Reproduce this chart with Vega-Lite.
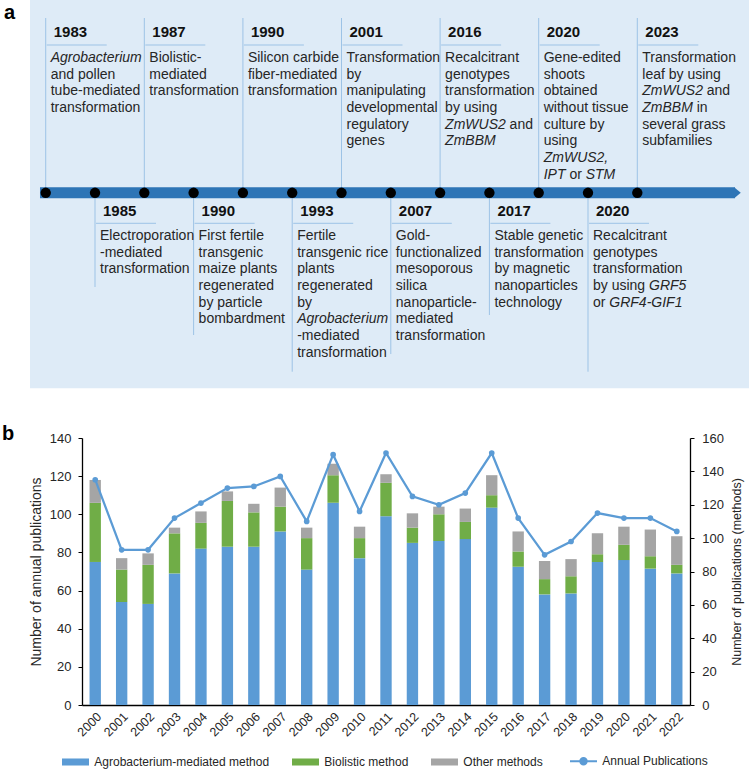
{
  "$schema": "https://vega.github.io/schema/vega-lite/v6.json",
  "width": 608,
  "height": 267,
  "autosize": {"type": "none"},
  "padding": {"left": 82, "top": 438, "right": 59, "bottom": 69},
  "background": "white",
  "config": {"view": {"stroke": null}, "font": "Liberation Sans, Arial, sans-serif"},
  "datasets": {
    "events": [
      {"slot": 1, "year": "1983", "side": "top", "reach": -1.394},
      {"slot": 2, "year": "1985", "side": "bottom", "reach": 14.74},
      {"slot": 3, "year": "1987", "side": "top", "reach": -1.394},
      {"slot": 4, "year": "1990", "side": "bottom", "reach": 17.62},
      {"slot": 5, "year": "1990", "side": "top", "reach": -1.394},
      {"slot": 6, "year": "1993", "side": "bottom", "reach": 19.82},
      {"slot": 7, "year": "2001", "side": "top", "reach": -1.394},
      {"slot": 8, "year": "2007", "side": "bottom", "reach": 18.76},
      {"slot": 9, "year": "2016", "side": "top", "reach": -1.394},
      {"slot": 10, "year": "2017", "side": "bottom", "reach": 16.42},
      {"slot": 11, "year": "2020", "side": "top", "reach": -1.394},
      {"slot": 12, "year": "2020", "side": "bottom", "reach": 19.82},
      {"slot": 13, "year": "2023", "side": "top", "reach": -1.394}
    ],
    "texts": [
      {"slot": 1, "side": "top", "line": 1, "text": "Agrobacterium", "it": true},
      {"slot": 1, "side": "top", "line": 2, "text": "and pollen"},
      {"slot": 1, "side": "top", "line": 3, "text": "tube-mediated"},
      {"slot": 1, "side": "top", "line": 4, "text": "transformation"},
      {"slot": 3, "side": "top", "line": 1, "text": "Biolistic-"},
      {"slot": 3, "side": "top", "line": 2, "text": "mediated"},
      {"slot": 3, "side": "top", "line": 3, "text": "transformation"},
      {"slot": 5, "side": "top", "line": 1, "text": "Silicon carbide"},
      {"slot": 5, "side": "top", "line": 2, "text": "fiber-mediated"},
      {"slot": 5, "side": "top", "line": 3, "text": "transformation"},
      {"slot": 7, "side": "top", "line": 1, "text": "Transformation"},
      {"slot": 7, "side": "top", "line": 2, "text": "by"},
      {"slot": 7, "side": "top", "line": 3, "text": "manipulating"},
      {"slot": 7, "side": "top", "line": 4, "text": "developmental"},
      {"slot": 7, "side": "top", "line": 5, "text": "regulatory"},
      {"slot": 7, "side": "top", "line": 6, "text": "genes"},
      {"slot": 9, "side": "top", "line": 1, "text": "Recalcitrant"},
      {"slot": 9, "side": "top", "line": 2, "text": "genotypes"},
      {"slot": 9, "side": "top", "line": 3, "text": "transformation"},
      {"slot": 9, "side": "top", "line": 4, "text": "by using"},
      {"slot": 9, "side": "top", "line": 5, "text": "ZmWUS2", "it": true},
      {"slot": 9, "side": "top", "line": 5, "text": "and", "pre": "ZmWUS2"},
      {"slot": 9, "side": "top", "line": 6, "text": "ZmBBM", "it": true},
      {"slot": 11, "side": "top", "line": 1, "text": "Gene-edited"},
      {"slot": 11, "side": "top", "line": 2, "text": "shoots"},
      {"slot": 11, "side": "top", "line": 3, "text": "obtained"},
      {"slot": 11, "side": "top", "line": 4, "text": "without tissue"},
      {"slot": 11, "side": "top", "line": 5, "text": "culture by"},
      {"slot": 11, "side": "top", "line": 6, "text": "using"},
      {"slot": 11, "side": "top", "line": 7, "text": "ZmWUS2,", "it": true},
      {"slot": 11, "side": "top", "line": 8, "text": "IPT", "it": true},
      {"slot": 11, "side": "top", "line": 8, "text": "or", "pre": "IPT"},
      {"slot": 11, "side": "top", "line": 8, "text": "STM", "it": true, "pre": "IPT or"},
      {"slot": 13, "side": "top", "line": 1, "text": "Transformation"},
      {"slot": 13, "side": "top", "line": 2, "text": "leaf by using"},
      {"slot": 13, "side": "top", "line": 3, "text": "ZmWUS2", "it": true},
      {"slot": 13, "side": "top", "line": 3, "text": "and", "pre": "ZmWUS2"},
      {"slot": 13, "side": "top", "line": 4, "text": "ZmBBM", "it": true},
      {"slot": 13, "side": "top", "line": 4, "text": "in", "pre": "ZmBBM"},
      {"slot": 13, "side": "top", "line": 5, "text": "several grass"},
      {"slot": 13, "side": "top", "line": 6, "text": "subfamilies"},
      {"slot": 2, "side": "bottom", "line": 1, "text": "Electroporation"},
      {"slot": 2, "side": "bottom", "line": 2, "text": "-mediated"},
      {"slot": 2, "side": "bottom", "line": 3, "text": "transformation"},
      {"slot": 4, "side": "bottom", "line": 1, "text": "First fertile"},
      {"slot": 4, "side": "bottom", "line": 2, "text": "transgenic"},
      {"slot": 4, "side": "bottom", "line": 3, "text": "maize plants"},
      {"slot": 4, "side": "bottom", "line": 4, "text": "regenerated"},
      {"slot": 4, "side": "bottom", "line": 5, "text": "by particle"},
      {"slot": 4, "side": "bottom", "line": 6, "text": "bombardment"},
      {"slot": 6, "side": "bottom", "line": 1, "text": "Fertile"},
      {"slot": 6, "side": "bottom", "line": 2, "text": "transgenic rice"},
      {"slot": 6, "side": "bottom", "line": 3, "text": "plants"},
      {"slot": 6, "side": "bottom", "line": 4, "text": "regenerated"},
      {"slot": 6, "side": "bottom", "line": 5, "text": "by"},
      {"slot": 6, "side": "bottom", "line": 6, "text": "Agrobacterium", "it": true},
      {"slot": 6, "side": "bottom", "line": 7, "text": "-mediated"},
      {"slot": 6, "side": "bottom", "line": 8, "text": "transformation"},
      {"slot": 8, "side": "bottom", "line": 1, "text": "Gold-"},
      {"slot": 8, "side": "bottom", "line": 2, "text": "functionalized"},
      {"slot": 8, "side": "bottom", "line": 3, "text": "mesoporous"},
      {"slot": 8, "side": "bottom", "line": 4, "text": "silica"},
      {"slot": 8, "side": "bottom", "line": 5, "text": "nanoparticle-"},
      {"slot": 8, "side": "bottom", "line": 6, "text": "mediated"},
      {"slot": 8, "side": "bottom", "line": 7, "text": "transformation"},
      {"slot": 10, "side": "bottom", "line": 1, "text": "Stable genetic"},
      {"slot": 10, "side": "bottom", "line": 2, "text": "transformation"},
      {"slot": 10, "side": "bottom", "line": 3, "text": "by magnetic"},
      {"slot": 10, "side": "bottom", "line": 4, "text": "nanoparticles"},
      {"slot": 10, "side": "bottom", "line": 5, "text": "technology"},
      {"slot": 12, "side": "bottom", "line": 1, "text": "Recalcitrant"},
      {"slot": 12, "side": "bottom", "line": 2, "text": "genotypes"},
      {"slot": 12, "side": "bottom", "line": 3, "text": "transformation"},
      {"slot": 12, "side": "bottom", "line": 4, "text": "by using"},
      {"slot": 12, "side": "bottom", "line": 4, "text": "GRF5", "it": true, "pre": "by using"},
      {"slot": 12, "side": "bottom", "line": 5, "text": "or"},
      {"slot": 12, "side": "bottom", "line": 5, "text": "GRF4-GIF1", "it": true, "pre": "or"}
    ],
    "methods": [
      {"year": "2000", "method": "Agrobacterium-mediated method", "count": 75},
      {"year": "2000", "method": "Biolistic method", "count": 31},
      {"year": "2000", "method": "Other methods", "count": 12},
      {"year": "2001", "method": "Agrobacterium-mediated method", "count": 54},
      {"year": "2001", "method": "Biolistic method", "count": 17},
      {"year": "2001", "method": "Other methods", "count": 6},
      {"year": "2002", "method": "Agrobacterium-mediated method", "count": 53},
      {"year": "2002", "method": "Biolistic method", "count": 20.5},
      {"year": "2002", "method": "Other methods", "count": 6},
      {"year": "2003", "method": "Agrobacterium-mediated method", "count": 69},
      {"year": "2003", "method": "Biolistic method", "count": 21},
      {"year": "2003", "method": "Other methods", "count": 3},
      {"year": "2004", "method": "Agrobacterium-mediated method", "count": 82},
      {"year": "2004", "method": "Biolistic method", "count": 13.5},
      {"year": "2004", "method": "Other methods", "count": 6},
      {"year": "2005", "method": "Agrobacterium-mediated method", "count": 83},
      {"year": "2005", "method": "Biolistic method", "count": 24},
      {"year": "2005", "method": "Other methods", "count": 5},
      {"year": "2006", "method": "Agrobacterium-mediated method", "count": 83},
      {"year": "2006", "method": "Biolistic method", "count": 18},
      {"year": "2006", "method": "Other methods", "count": 4.5},
      {"year": "2007", "method": "Agrobacterium-mediated method", "count": 91},
      {"year": "2007", "method": "Biolistic method", "count": 13},
      {"year": "2007", "method": "Other methods", "count": 10},
      {"year": "2008", "method": "Agrobacterium-mediated method", "count": 71},
      {"year": "2008", "method": "Biolistic method", "count": 16.5},
      {"year": "2008", "method": "Other methods", "count": 5.5},
      {"year": "2009", "method": "Agrobacterium-mediated method", "count": 106},
      {"year": "2009", "method": "Biolistic method", "count": 14.5},
      {"year": "2009", "method": "Other methods", "count": 6},
      {"year": "2010", "method": "Agrobacterium-mediated method", "count": 77},
      {"year": "2010", "method": "Biolistic method", "count": 10.5},
      {"year": "2010", "method": "Other methods", "count": 6},
      {"year": "2011", "method": "Agrobacterium-mediated method", "count": 99},
      {"year": "2011", "method": "Biolistic method", "count": 17.5},
      {"year": "2011", "method": "Other methods", "count": 4.5},
      {"year": "2012", "method": "Agrobacterium-mediated method", "count": 85},
      {"year": "2012", "method": "Biolistic method", "count": 8},
      {"year": "2012", "method": "Other methods", "count": 7.5},
      {"year": "2013", "method": "Agrobacterium-mediated method", "count": 86},
      {"year": "2013", "method": "Biolistic method", "count": 14},
      {"year": "2013", "method": "Other methods", "count": 4},
      {"year": "2014", "method": "Agrobacterium-mediated method", "count": 87},
      {"year": "2014", "method": "Biolistic method", "count": 9},
      {"year": "2014", "method": "Other methods", "count": 7},
      {"year": "2015", "method": "Agrobacterium-mediated method", "count": 103.5},
      {"year": "2015", "method": "Biolistic method", "count": 6.5},
      {"year": "2015", "method": "Other methods", "count": 10.5},
      {"year": "2016", "method": "Agrobacterium-mediated method", "count": 72.5},
      {"year": "2016", "method": "Biolistic method", "count": 8},
      {"year": "2016", "method": "Other methods", "count": 10.5},
      {"year": "2017", "method": "Agrobacterium-mediated method", "count": 58},
      {"year": "2017", "method": "Biolistic method", "count": 8},
      {"year": "2017", "method": "Other methods", "count": 9.5},
      {"year": "2018", "method": "Agrobacterium-mediated method", "count": 58.5},
      {"year": "2018", "method": "Biolistic method", "count": 9},
      {"year": "2018", "method": "Other methods", "count": 9},
      {"year": "2019", "method": "Agrobacterium-mediated method", "count": 75},
      {"year": "2019", "method": "Biolistic method", "count": 4},
      {"year": "2019", "method": "Other methods", "count": 11},
      {"year": "2020", "method": "Agrobacterium-mediated method", "count": 76},
      {"year": "2020", "method": "Biolistic method", "count": 8},
      {"year": "2020", "method": "Other methods", "count": 9.5},
      {"year": "2021", "method": "Agrobacterium-mediated method", "count": 71.5},
      {"year": "2021", "method": "Biolistic method", "count": 6.5},
      {"year": "2021", "method": "Other methods", "count": 14},
      {"year": "2022", "method": "Agrobacterium-mediated method", "count": 69},
      {"year": "2022", "method": "Biolistic method", "count": 4.5},
      {"year": "2022", "method": "Other methods", "count": 15}
    ],
    "annual": [
      {"year": "2000", "publications": 135},
      {"year": "2001", "publications": 93},
      {"year": "2002", "publications": 93},
      {"year": "2003", "publications": 112},
      {"year": "2004", "publications": 121},
      {"year": "2005", "publications": 130},
      {"year": "2006", "publications": 131},
      {"year": "2007", "publications": 137},
      {"year": "2008", "publications": 110},
      {"year": "2009", "publications": 150},
      {"year": "2010", "publications": 116},
      {"year": "2011", "publications": 151},
      {"year": "2012", "publications": 125},
      {"year": "2013", "publications": 120},
      {"year": "2014", "publications": 127},
      {"year": "2015", "publications": 151},
      {"year": "2016", "publications": 112},
      {"year": "2017", "publications": 90},
      {"year": "2018", "publications": 98},
      {"year": "2019", "publications": 115},
      {"year": "2020", "publications": 112},
      {"year": "2021", "publications": 112},
      {"year": "2022", "publications": 104}
    ],
    "panels": [
      {"label": "a", "px": 0.154, "py": -1.35},
      {"label": "b", "px": 0.113, "py": 23.916}
    ]
  },
  "layer": [
    {
      "layer": [
        {
          "data": {"values": [{"box": "timeline"}]},
          "mark": {"type": "rect", "fill": "#deebf7"},
          "encoding": {
            "x": {"datum": 0.681, "type": "quantitative", "scale": {"domain": [1.736, 14.069], "nice": false, "zero": false}, "axis": null},
            "x2": {"datum": 15.4},
            "y": {"datum": -2.474, "type": "quantitative", "scale": {"domain": [23.796, 39.81], "reverse": true, "nice": false, "zero": false}, "axis": null},
            "y2": {"datum": 20.815}
          }
        },
        {
          "data": {"name": "events"},
          "mark": {"type": "rule", "color": "#9dc3e6", "strokeWidth": 1},
          "encoding": {
            "x": {"field": "slot", "type": "quantitative", "scale": {"domain": [1.736, 14.069], "nice": false, "zero": false}, "axis": null},
            "y": {"field": "reach", "type": "quantitative", "scale": {"domain": [23.796, 39.81], "reverse": true, "nice": false, "zero": false}, "axis": null},
            "y2": {"datum": 9.09}
          }
        },
        {
          "data": {"name": "events"},
          "transform": [{"filter": "datum.side === 'top'"}],
          "mark": {"type": "rule", "color": "#9dc3e6", "strokeWidth": 1, "xOffset": 1, "x2Offset": 61},
          "encoding": {
            "x": {"field": "slot", "type": "quantitative", "scale": {"domain": [1.736, 14.069], "nice": false, "zero": false}, "axis": null},
            "x2": {"field": "slot"},
            "y": {"datum": 0.225, "type": "quantitative", "scale": {"domain": [23.796, 39.81], "reverse": true, "nice": false, "zero": false}, "axis": null}
          }
        },
        {
          "data": {"name": "events"},
          "transform": [{"filter": "datum.side === 'bottom'"}],
          "mark": {"type": "rule", "color": "#9dc3e6", "strokeWidth": 1, "xOffset": 1, "x2Offset": 61},
          "encoding": {
            "x": {"field": "slot", "type": "quantitative", "scale": {"domain": [1.736, 14.069], "nice": false, "zero": false}, "axis": null},
            "x2": {"field": "slot"},
            "y": {"datum": 10.919, "type": "quantitative", "scale": {"domain": [23.796, 39.81], "reverse": true, "nice": false, "zero": false}, "axis": null}
          }
        },
        {
          "data": {"values": [{"part": "arrow"}]},
          "mark": {"type": "rule", "color": "#2e75b6", "strokeWidth": 11, "strokeCap": "butt"},
          "encoding": {
            "x": {"datum": 0.884, "type": "quantitative", "scale": {"domain": [1.736, 14.069], "nice": false, "zero": false}, "axis": null},
            "x2": {"datum": 14.981},
            "y": {"datum": 9.09, "type": "quantitative", "scale": {"domain": [23.796, 39.81], "reverse": true, "nice": false, "zero": false}, "axis": null}
          }
        },
        {
          "data": {"values": [{"part": "arrowhead"}]},
          "mark": {"type": "point", "filled": true, "fill": "#2e75b6", "opacity": 1, "strokeWidth": 0, "shape": "M-0.6,-1L0.6,0L-0.6,1Z", "size": 121},
          "encoding": {
            "x": {"datum": 15.032, "type": "quantitative", "scale": {"domain": [1.736, 14.069], "nice": false, "zero": false}, "axis": null},
            "y": {"datum": 9.09, "type": "quantitative", "scale": {"domain": [23.796, 39.81], "reverse": true, "nice": false, "zero": false}, "axis": null}
          }
        },
        {
          "data": {"name": "events"},
          "mark": {"type": "point", "filled": true, "fill": "black", "opacity": 1, "strokeWidth": 0, "shape": "circle", "size": 108},
          "encoding": {
            "x": {"field": "slot", "type": "quantitative", "scale": {"domain": [1.736, 14.069], "nice": false, "zero": false}, "axis": null},
            "y": {"datum": 9.09, "type": "quantitative", "scale": {"domain": [23.796, 39.81], "reverse": true, "nice": false, "zero": false}, "axis": null}
          }
        },
        {
          "data": {"name": "events"},
          "transform": [{"filter": "datum.side === 'top'"}],
          "mark": {"type": "text", "align": "left", "baseline": "middle", "dx": 8, "fontSize": 15, "fontWeight": "bold", "color": "#111111"},
          "encoding": {
            "x": {"field": "slot", "type": "quantitative", "scale": {"domain": [1.736, 14.069], "nice": false, "zero": false}, "axis": null},
            "y": {"datum": -0.555, "type": "quantitative", "scale": {"domain": [23.796, 39.81], "reverse": true, "nice": false, "zero": false}, "axis": null},
            "text": {"field": "year"}
          }
        },
        {
          "data": {"name": "events"},
          "transform": [{"filter": "datum.side === 'bottom'"}],
          "mark": {"type": "text", "align": "left", "baseline": "middle", "dx": 8, "fontSize": 15, "fontWeight": "bold", "color": "#111111"},
          "encoding": {
            "x": {"field": "slot", "type": "quantitative", "scale": {"domain": [1.736, 14.069], "nice": false, "zero": false}, "axis": null},
            "y": {"datum": 10.181, "type": "quantitative", "scale": {"domain": [23.796, 39.81], "reverse": true, "nice": false, "zero": false}, "axis": null},
            "text": {"field": "year"}
          }
        },
        {
          "data": {"name": "texts"},
          "transform": [{"filter": "datum.side === 'top' && !datum.pre && !datum.it"}],
          "mark": {"type": "text", "align": "left", "baseline": "middle", "dx": 5, "fontSize": 14, "color": "#262626"},
          "encoding": {
            "x": {"field": "slot", "type": "quantitative", "scale": {"domain": [1.736, 14.069], "nice": false, "zero": false}, "axis": null},
            "y": {"field": "line", "type": "quantitative", "scale": {"domain": [23.796, 39.81], "reverse": true, "nice": false, "zero": false}, "axis": null},
            "text": {"field": "text"}
          }
        },
        {
          "data": {"name": "texts"},
          "transform": [{"filter": "datum.side === 'top' && !datum.pre && datum.it"}],
          "mark": {"type": "text", "align": "left", "baseline": "middle", "dx": 5, "fontSize": 14, "fontStyle": "italic", "color": "#262626"},
          "encoding": {
            "x": {"field": "slot", "type": "quantitative", "scale": {"domain": [1.736, 14.069], "nice": false, "zero": false}, "axis": null},
            "y": {"field": "line", "type": "quantitative", "scale": {"domain": [23.796, 39.81], "reverse": true, "nice": false, "zero": false}, "axis": null},
            "text": {"field": "text"}
          }
        },
        {
          "data": {"name": "texts"},
          "transform": [{"filter": "datum.side === 'bottom' && !datum.pre && !datum.it"}],
          "mark": {"type": "text", "align": "left", "baseline": "middle", "dx": 5, "dy": 178, "fontSize": 14, "color": "#262626"},
          "encoding": {
            "x": {"field": "slot", "type": "quantitative", "scale": {"domain": [1.736, 14.069], "nice": false, "zero": false}, "axis": null},
            "y": {"field": "line", "type": "quantitative", "scale": {"domain": [23.796, 39.81], "reverse": true, "nice": false, "zero": false}, "axis": null},
            "text": {"field": "text"}
          }
        },
        {
          "data": {"name": "texts"},
          "transform": [{"filter": "datum.side === 'bottom' && !datum.pre && datum.it"}],
          "mark": {"type": "text", "align": "left", "baseline": "middle", "dx": 5, "dy": 178, "fontSize": 14, "fontStyle": "italic", "color": "#262626"},
          "encoding": {
            "x": {"field": "slot", "type": "quantitative", "scale": {"domain": [1.736, 14.069], "nice": false, "zero": false}, "axis": null},
            "y": {"field": "line", "type": "quantitative", "scale": {"domain": [23.796, 39.81], "reverse": true, "nice": false, "zero": false}, "axis": null},
            "text": {"field": "text"}
          }
        },
        {
          "data": {"name": "texts"},
          "transform": [{"filter": "datum.pre === 'ZmWUS2'"}],
          "mark": {"type": "text", "align": "left", "baseline": "middle", "dx": 69.5, "fontSize": 14, "color": "#262626"},
          "encoding": {
            "x": {"field": "slot", "type": "quantitative", "scale": {"domain": [1.736, 14.069], "nice": false, "zero": false}, "axis": null},
            "y": {"field": "line", "type": "quantitative", "scale": {"domain": [23.796, 39.81], "reverse": true, "nice": false, "zero": false}, "axis": null},
            "text": {"field": "text"}
          }
        },
        {
          "data": {"name": "texts"},
          "transform": [{"filter": "datum.pre === 'ZmBBM'"}],
          "mark": {"type": "text", "align": "left", "baseline": "middle", "dx": 59.4, "fontSize": 14, "color": "#262626"},
          "encoding": {
            "x": {"field": "slot", "type": "quantitative", "scale": {"domain": [1.736, 14.069], "nice": false, "zero": false}, "axis": null},
            "y": {"field": "line", "type": "quantitative", "scale": {"domain": [23.796, 39.81], "reverse": true, "nice": false, "zero": false}, "axis": null},
            "text": {"field": "text"}
          }
        },
        {
          "data": {"name": "texts"},
          "transform": [{"filter": "datum.pre === 'IPT'"}],
          "mark": {"type": "text", "align": "left", "baseline": "middle", "dx": 30.7, "fontSize": 14, "color": "#262626"},
          "encoding": {
            "x": {"field": "slot", "type": "quantitative", "scale": {"domain": [1.736, 14.069], "nice": false, "zero": false}, "axis": null},
            "y": {"field": "line", "type": "quantitative", "scale": {"domain": [23.796, 39.81], "reverse": true, "nice": false, "zero": false}, "axis": null},
            "text": {"field": "text"}
          }
        },
        {
          "data": {"name": "texts"},
          "transform": [{"filter": "datum.pre === 'IPT or'"}],
          "mark": {"type": "text", "align": "left", "baseline": "middle", "dx": 47, "fontSize": 14, "fontStyle": "italic", "color": "#262626"},
          "encoding": {
            "x": {"field": "slot", "type": "quantitative", "scale": {"domain": [1.736, 14.069], "nice": false, "zero": false}, "axis": null},
            "y": {"field": "line", "type": "quantitative", "scale": {"domain": [23.796, 39.81], "reverse": true, "nice": false, "zero": false}, "axis": null},
            "text": {"field": "text"}
          }
        },
        {
          "data": {"name": "texts"},
          "transform": [{"filter": "datum.pre === 'by using'"}],
          "mark": {"type": "text", "align": "left", "baseline": "middle", "dx": 61, "dy": 178, "fontSize": 14, "fontStyle": "italic", "color": "#262626"},
          "encoding": {
            "x": {"field": "slot", "type": "quantitative", "scale": {"domain": [1.736, 14.069], "nice": false, "zero": false}, "axis": null},
            "y": {"field": "line", "type": "quantitative", "scale": {"domain": [23.796, 39.81], "reverse": true, "nice": false, "zero": false}, "axis": null},
            "text": {"field": "text"}
          }
        },
        {
          "data": {"name": "texts"},
          "transform": [{"filter": "datum.pre === 'or'"}],
          "mark": {"type": "text", "align": "left", "baseline": "middle", "dx": 21.3, "dy": 178, "fontSize": 14, "fontStyle": "italic", "color": "#262626"},
          "encoding": {
            "x": {"field": "slot", "type": "quantitative", "scale": {"domain": [1.736, 14.069], "nice": false, "zero": false}, "axis": null},
            "y": {"field": "line", "type": "quantitative", "scale": {"domain": [23.796, 39.81], "reverse": true, "nice": false, "zero": false}, "axis": null},
            "text": {"field": "text"}
          }
        },
        {
          "data": {"name": "panels"},
          "mark": {"type": "text", "align": "left", "baseline": "alphabetic", "fontSize": 20, "fontWeight": "bold", "color": "black"},
          "encoding": {
            "x": {"field": "px", "type": "quantitative", "scale": {"domain": [1.736, 14.069], "nice": false, "zero": false}, "axis": null},
            "y": {"field": "py", "type": "quantitative", "scale": {"domain": [23.796, 39.81], "reverse": true, "nice": false, "zero": false}, "axis": null},
            "text": {"field": "label"}
          }
        }
      ]
    },
    {
      "encoding": {
        "x": {
          "field": "year", "type": "ordinal",
          "scale": {"paddingInner": 0.57, "paddingOuter": 0.285},
          "axis": {"title": null, "labelAngle": -45, "labelFontSize": 12.5, "labelColor": "#262626", "tickSize": 0, "labelPadding": 5, "domainColor": "#000000", "domainWidth": 1.5}
        }
      },
      "layer": [
        {
          "data": {"name": "methods"},
          "mark": {"type": "bar"},
          "encoding": {
            "y": {
              "field": "count", "type": "quantitative", "stack": "zero",
              "scale": {"domain": [0, 140], "nice": false},
              "axis": {"orient": "left", "values": [0, 20, 40, 60, 80, 100, 120, 140], "grid": false, "title": "Number of annual publications", "titleFontSize": 14, "titleFontWeight": "normal", "titleColor": "#262626", "titlePadding": 6, "labelFontSize": 13, "labelColor": "#262626", "labelPadding": 7, "tickSize": 4, "tickColor": "#000000", "domainColor": "#000000", "domainWidth": 1.3}
            },
            "color": {
              "field": "method", "type": "nominal",
              "scale": {"domain": ["Agrobacterium-mediated method", "Biolistic method", "Other methods", "Annual Publications"], "range": ["#5b9bd5", "#70ad47", "#a5a5a5", "#5b9bd5"]},
              "legend": {
                "title": null, "orient": "none", "direction": "horizontal", "legendX": -12.5, "legendY": 317, "padding": 0,
                "labelFontSize": 12, "labelColor": "#262626", "labelOffset": 12.8, "labelLimit": 400, "columnPadding": 22,
                "symbolSize": 729, "symbolType": "M-1,-0.26H1V0.26H-1Z",
                "encode": {
                  "symbols": {
                    "update": {
                      "shape": {"signal": "datum.label === 'Annual Publications' ? 'M-1,0H1M-0.23,0A0.23,0.23,0,1,1,0.23,0A0.23,0.23,0,1,1,-0.23,0' : 'M-1,-0.26H1V0.26H-1Z'"},
                      "fill": {"scale": "color", "field": "value"},
                      "stroke": {"scale": "color", "field": "value"},
                      "strokeWidth": {"signal": "datum.label === 'Annual Publications' ? 2.2 : 0"},
                      "opacity": {"value": 1},
                      "fillOpacity": {"value": 1}
                    }
                  }
                }
              }
            },
            "order": {"field": "method", "sort": "ascending"}
          }
        },
        {
          "data": {"name": "annual"},
          "mark": {"type": "line", "strokeWidth": 2.25, "point": {"filled": true, "size": 32}},
          "encoding": {
            "y": {
              "field": "publications", "type": "quantitative",
              "scale": {"domain": [0, 160], "nice": false},
              "axis": {"orient": "right", "values": [0, 20, 40, 60, 80, 100, 120, 140, 160], "grid": false, "title": "Number of publications (methods)", "titleAngle": 270, "titleBaseline": "top", "titleFontSize": 12.5, "titleFontWeight": "normal", "titleColor": "#262626", "titlePadding": 7, "labelFontSize": 13, "labelColor": "#262626", "labelPadding": 7.7, "tickSize": 4, "tickColor": "#000000", "domainColor": "#000000", "domainWidth": 1.3}
            },
            "color": {"datum": "Annual Publications"}
          }
        }
      ],
      "resolve": {"scale": {"y": "independent"}}
    }
  ],
  "resolve": {"scale": {"x": "independent", "y": "independent"}}
}
